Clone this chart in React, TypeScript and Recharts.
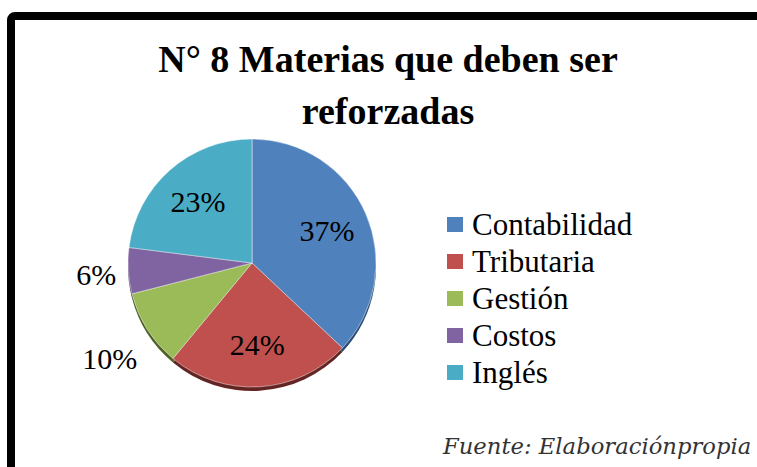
import React from 'react';
import { PieChart, Pie, Cell, Legend } from 'recharts';

const categories = ['Contabilidad', 'Tributaria', 'Gestión', 'Costos', 'Inglés'];
const values = [37, 24, 10, 6, 23];
const colors = ['#4F81BD', '#C0504D', '#9BBB59', '#8064A2', '#4BACC6'];
const shadeColors = ['#2C4D75', '#632523', '#4F6228', '#3F3151', '#215968'];
const titleLines = ['N° 8 Materias que deben ser', 'reforzadas'];
const sourceText = 'Fuente: Elaboraciónpropia';

const data = categories.map((name, i) => ({ name, value: values[i] }));

const SERIF = "'Liberation Serif', 'Times New Roman', serif";

const RAD = Math.PI / 180;

const renderLabel = (props: any) => {
  const { cx, cy, midAngle, outerRadius, percent } = props;
  const cos = Math.cos(-midAngle * RAD);
  const sin = Math.sin(-midAngle * RAD);
  const text = `${Math.round(percent * 100)}%`;
  if (percent < 0.15) {
    const x = cx + (outerRadius + 12) * cos;
    const y = cy + (outerRadius + 55) * sin;
    return (
      <text x={x} y={y} textAnchor="end" dominantBaseline="central" style={{ fontFamily: SERIF, fontSize: 30 }} fill="#000">
        {text}
      </text>
    );
  }
  const r = outerRadius * 0.66;
  return (
    <text x={cx + r * cos} y={cy + r * sin} textAnchor="middle" dominantBaseline="central" style={{ fontFamily: SERIF, fontSize: 30 }} fill="#000">
      {text}
    </text>
  );
};

const LegendContent = (props: any) => {
  const payload = (props.payload || [])
    .filter((p: any) => p.type !== 'none')
    .slice()
    .sort((a: any, b: any) => categories.indexOf(a.value) - categories.indexOf(b.value));
  return (
    <svg width={260} height={200} style={{ display: 'block' }}>
      {payload.map((p: any, i: number) => (
        <g key={i}>
          <rect x={7} y={17 + i * 37} width={16} height={15} fill={p.color} />
          <text x={32} y={35 + i * 37} style={{ fontFamily: SERIF, fontSize: 31 }} fill="#000">
            {p.value}
          </text>
        </g>
      ))}
    </svg>
  );
};

export default function App() {
  return (
    <div style={{ position: 'fixed', left: 0, top: 0, width: 757, height: 467, overflow: 'hidden', background: '#fff' }}>
      <div
        style={{
          position: 'absolute',
          left: 7,
          top: 12,
          width: 820,
          height: 520,
          border: '8px solid #000',
          borderRadius: 8,
          boxSizing: 'border-box',
        }}
      />
      <svg width={757} height={467} style={{ position: 'absolute', left: 0, top: 0 }}>
        <text x={388} y={72} textAnchor="middle" style={{ fontFamily: SERIF, fontWeight: 'bold', fontSize: 38 }} fill="#000">
          {titleLines[0]}
        </text>
        <text x={388} y={124} textAnchor="middle" style={{ fontFamily: SERIF, fontWeight: 'bold', fontSize: 38 }} fill="#000">
          {titleLines[1]}
        </text>
        <text x={443} y={454} style={{ fontFamily: "'DejaVu Serif', serif", fontStyle: 'italic', fontSize: 22.7 }} fill="#333">
          {sourceText}
        </text>
      </svg>
      <div style={{ position: 'absolute', left: 0, top: 0 }}>
        <PieChart width={757} height={467} margin={{ top: 0, right: 0, bottom: 0, left: 0 }}>
          <Pie
            data={data}
            dataKey="value"
            nameKey="name"
            cx={252}
            cy={267}
            outerRadius={124}
            startAngle={90}
            endAngle={-270}
            isAnimationActive={false}
            stroke="none"
            legendType="none"
          >
            {data.map((d, i) => (
              <Cell key={d.name} fill={shadeColors[i]} />
            ))}
          </Pie>
          <Pie
            data={data}
            dataKey="value"
            nameKey="name"
            cx={252}
            cy={263}
            outerRadius={124}
            startAngle={90}
            endAngle={-270}
            isAnimationActive={false}
            stroke="rgba(255,255,255,0.45)"
            strokeWidth={1}
            label={renderLabel}
            labelLine={false}
            legendType="square"
          >
            {data.map((d, i) => (
              <Cell key={d.name} fill={colors[i]} />
            ))}
          </Pie>
          <Legend
            content={<LegendContent />}
            wrapperStyle={{ position: 'absolute', left: 440, top: 200, width: 260, height: 200 }}
          />
        </PieChart>
      </div>
    </div>
  );
}
